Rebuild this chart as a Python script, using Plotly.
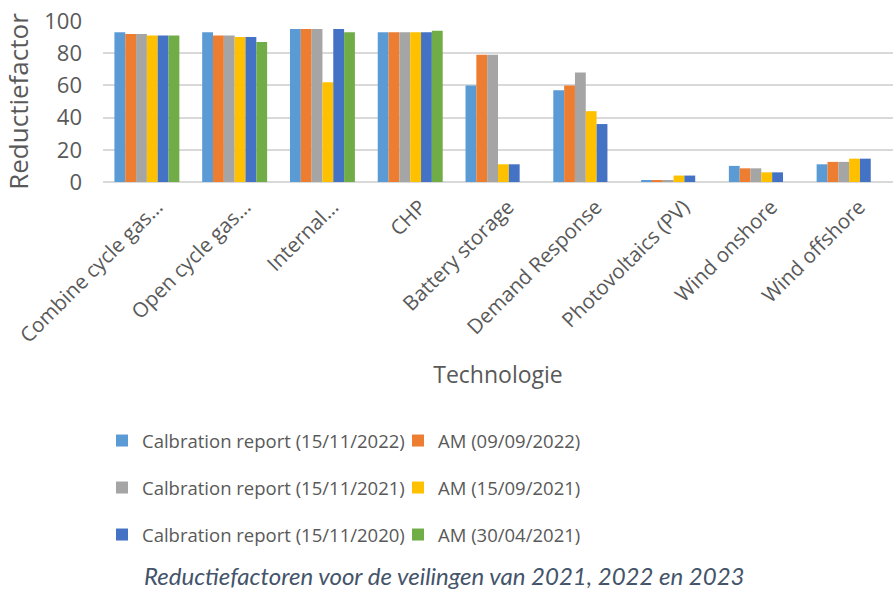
import plotly.graph_objects as go

categories = ["Combine cycle gas…", "Open cycle gas…", "Internal…", "CHP", "Battery storage",
              "Demand Response", "Photovoltaics (PV)", "Wind onshore", "Wind offshore"]

series_names = ["Calbration report (15/11/2022)", "AM (09/09/2022)",
                "Calbration report (15/11/2021)", "AM (15/09/2021)",
                "Calbration report (15/11/2020)", "AM (30/04/2021)"]

cal_2022 = [93, 93, 95, 93, 60, 57, 1, 10, 11]
am_2022 = [92, 91, 95, 93, 79, 60, 1, 8.5, 12.5]
cal_2021 = [92, 91, 95, 93, 79, 68, 1, 8.5, 12.5]
am_2021_09 = [91, 90, 62, 93, 11, 44, 4, 6, 14.5]
cal_2020 = [91, 90, 95, 93, 11, 36, 4, 6, 14.5]
am_2021_04 = [91, 87, 93, 94, None, None, None, None, None]

values = [cal_2022, am_2022, cal_2021, am_2021_09, cal_2020, am_2021_04]
colors = ["#5B9BD5", "#ED7D31", "#A5A5A5", "#FFC000", "#4472C4", "#70AD47"]
legend_ids = ["legend", "legend", "legend2", "legend2", "legend3", "legend3"]

font_family = "Open Sans"
text_color = "#595959"
W, H = 893, 596
L, T = 103, 21
B = H - 182
plot_h = H - T - B
plot_w = W - L

fig = go.Figure()
for name, vals, col, lg in zip(series_names, values, colors, legend_ids):
    fig.add_trace(go.Bar(x=categories, y=vals, name=name, marker=dict(color=col, line=dict(width=0)),
                         legend=lg))

legend_common = dict(orientation="h", xanchor="left", yanchor="middle",
                     xref="container", yref="container", x=102 / W,
                     font=dict(family=font_family, size=18.5, color=text_color),
                     entrywidth=251, entrywidthmode="pixels", itemwidth=30,
                     bgcolor="rgba(0,0,0,0)", traceorder="normal")

fig.update_layout(
    width=W, height=H,
    margin=dict(l=L, r=0, t=T, b=B, autoexpand=False),
    paper_bgcolor="white", plot_bgcolor="white",
    barmode="group", bargap=0.26, bargroupgap=0,
    font=dict(family=font_family, color=text_color),
    showlegend=True,
    legend=dict(legend_common, y=1 - 441 / H),
    legend2=dict(legend_common, y=1 - 488 / H),
    legend3=dict(legend_common, y=1 - 535 / H),
    xaxis=dict(
        tickangle=-45, tickfont=dict(family=font_family, size=20.5, color=text_color),
        showgrid=False, ticks="", showline=False, automargin=False,
        ticklabelstandoff=8, ticklabelshift=10,
        title=dict(text="Technologie", font=dict(family=font_family, size=23, color=text_color), standoff=19),
    ),
    yaxis=dict(
        range=[0, 100], dtick=20, tickfont=dict(family=font_family, size=22, color=text_color),
        showgrid=True, gridcolor="#D9D9D9", gridwidth=1.5, zeroline=True, zerolinecolor="#D9D9D9",
        zerolinewidth=1.5, ticks="", ticklabelstandoff=20, automargin=False, ticklabeloverflow="allow",
        title=dict(text="Reductiefactor", font=dict(family=font_family, size=26, color=text_color), standoff=18),
    ),
    annotations=[dict(
        text="<i>Reductiefactoren voor de veilingen van 2021, 2022 en 2023</i>",
        xref="paper", yref="paper", x=(444 - L) / plot_w, y=(182 - 575) / plot_h,
        xanchor="center", yanchor="middle",
        showarrow=False, font=dict(family="Lato", size=24, color="#44546A"),
    )],
)

fig.write_html("out.html", config={"displayModeBar": False},
               post_script="document.body.style.margin='0';")
